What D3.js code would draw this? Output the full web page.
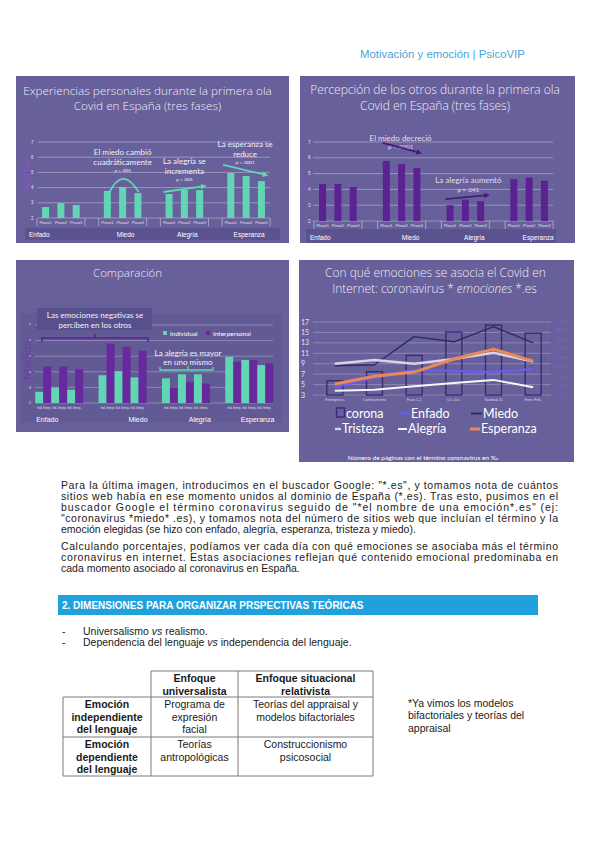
<!DOCTYPE html>
<html>
<head>
<meta charset="utf-8">
<script src="https://cdn.jsdelivr.net/npm/d3@7"></script>
<style>
  body { margin: 0; background: #fff; }
</style>
</head>
<body>
<div id="page"></div>
<script>
// ---- data ----
const emotions = ["Enfado", "Miedo", "Alegría", "Esperanza"];
const phases = ["Phase1", "Phase2", "Phase3"];
const personal = [[2.72, 2.98, 2.85], [3.78, 4.04, 3.64], [3.58, 3.84, 3.84], [4.96, 4.76, 4.43]];
const others = [[4.34, 4.34, 4.15], [5.8, 5.6, 5.35], [3.0, 3.35, 3.25], [4.65, 4.75, 4.55]];
const mediaTicks = [2, 3, 4, 5, 6, 7];

const periods = ["Emergencia", "Confinamiento", "Fase 1-2", "Oct.-Dic.", "Navidad 20", "Ener.-Feb."];
const corona = [7700, 12600, 21400, 34000, 37800, 33400];
const enfado = [4.5, 6.3, 7.8, 7.6, 7.4, 8.0];
const miedo = [8.6, 8.8, 14.2, 13.2, 16.1, 13.0];
const tristeza = [9.0, 9.7, 9.0, 9.9, 11.1, 9.4];
const alegria = [3.8, 4.0, 4.7, 5.3, 5.9, 4.5];
const esperanza = [5.1, 6.6, 7.4, 9.9, 11.8, 9.5];
const leftTicks = [3, 5, 7, 9, 11, 13, 15, 17];
const rightTicks = [0, 5000, 10000, 15000, 20000, 25000, 30000, 35000, 40000];

const para1 = [
  "Para la última imagen, introducimos en el buscador Google: \"*.es\", y tomamos nota de cuántos",
  "sitios web había en ese momento unidos al dominio de España (*.es). Tras esto, pusimos en el",
  "buscador Google el término coronavirus seguido de \"*el nombre de una emoción*.es\" (ej:",
  "\"coronavirus *miedo* .es), y tomamos nota del número de sitios web que incluían el término y la",
  "emoción elegidas (se hizo con enfado, alegría, esperanza, tristeza y miedo)."
];
const para2 = [
  "Calculando porcentajes, podíamos ver cada día con qué emociones se asociaba más el término",
  "coronavirus en internet. Estas asociaciones reflejan qué contenido emocional predominaba en",
  "cada momento asociado al coronavirus en España."
];
const tableHead = [["Enfoque", "universalista"], ["Enfoque situacional", "relativista"]];
const rowHeads = [["Emoción", "independiente", "del lenguaje"], ["Emoción", "dependiente", "del lenguaje"]];
const rowCells = [
  [["Programa de", "expresión", "facial"], ["Teorías del appraisal y", "modelos bifactoriales"]],
  [["Teorías", "antropológicas"], ["Construccionismo", "psicosocial"]]
];
const sideNote = ["*Ya vimos los modelos", "bifactoriales y teorías del", "appraisal"];

// ---- colours / fonts ----
const BG = "#68609a";
const ROW = "#5a5390";
const TEAL = "#62d6b4";
const PURPLE = "#5a2391";
const PURPLE3 = "#67299d";
const SANS = "'Liberation Sans', Arial, sans-serif";
const CH = "Lato, 'Open Sans', sans-serif";
const TT = "'Open Sans', Lato, sans-serif";

const svg = d3.select("#page").append("svg")
  .attr("width", 600).attr("height", 848)
  .style("display", "block");

const defs = svg.append("defs");
function arrowMarker(id, color) {
  defs.append("marker").attr("id", id)
    .attr("viewBox", "0 0 10 10").attr("refX", 6).attr("refY", 5)
    .attr("markerWidth", 3.2).attr("markerHeight", 3.2)
    .attr("orient", "auto")
    .append("path").attr("d", "M0,0L10,5L0,10z").attr("fill", color);
}
arrowMarker("arTeal", TEAL);
arrowMarker("arPurple", "#4a1a80");

function fitWidth(sel, w) {
  const len = sel.node().getComputedTextLength();
  const fs = parseFloat(sel.attr("font-size")) * w / len;
  sel.attr("font-size", fs.toFixed(2));
  return fs;
}

function title(g, lines, cx, ys, w) {
  const t = g.append("text").attr("x", cx).attr("y", ys[0])
    .attr("text-anchor", "middle").attr("font-family", TT).attr("font-weight", 300)
    .attr("font-size", 12).attr("fill", "#eeecf6").text(lines[0]);
  const fs = fitWidth(t, w);
  for (let i = 1; i < lines.length; i++) {
    g.append("text").attr("x", cx).attr("y", ys[i])
      .attr("text-anchor", "middle").attr("font-family", TT).attr("font-weight", 300)
      .attr("font-size", fs).attr("fill", "#eeecf6").text(lines[i]);
  }
}

// header
const head = svg.append("text").attr("x", 360).attr("y", 57.5)
  .attr("font-family", SANS).attr("font-size", 10.5).attr("fill", "#4aa3d5")
  .text("Motivación y emoción | PsicoVIP");
fitWidth(head, 165);

// ---- charts 1 & 2 : three phases ----
function phaseChart(o) {
  const g = svg.append("g");
  g.append("rect").attr("x", o.box[0]).attr("y", o.box[1])
    .attr("width", o.box[2] - o.box[0]).attr("height", o.box[3] - o.box[1]).attr("fill", BG);
  title(g, o.title, o.tx, o.ty, o.tw);

  const x = d3.scaleBand().domain(emotions).range(o.xr);
  const xi = d3.scalePoint().domain(phases).range([-15.3, 15.3]);
  const y = d3.scaleLinear().domain([2, 7]).range(o.yr);

  g.selectAll(".grid").data(mediaTicks).join("line")
    .attr("x1", o.gx[0]).attr("x2", o.gx[1])
    .attr("y1", d => y(d)).attr("y2", d => y(d))
    .attr("stroke", "#ffffff").attr("stroke-opacity", 0.42).attr("stroke-width", 0.8);
  g.selectAll(".tick").data(mediaTicks).join("text")
    .attr("x", o.tickX).attr("y", d => y(d) + 1.5)
    .attr("font-family", SANS).attr("font-size", 4.5).attr("fill", "#e6e2f2")
    .text(d => d);

  g.append("text")
    .attr("transform", `translate(${o.media[0]},${o.media[1]}) rotate(-90)`)
    .attr("text-anchor", "middle").attr("font-family", CH).attr("font-size", o.media[2])
    .attr("fill", "#8a52c6").text("MEDIA");

  const rows = [];
  o.data.forEach((vals, i) => vals.forEach((v, j) => rows.push({ e: emotions[i], p: phases[j], v })));
  g.selectAll(".bar").data(rows).join("rect")
    .attr("x", d => x(d.e) + x.bandwidth() / 2 + xi(d.p) - 3.5)
    .attr("y", d => y(d.v))
    .attr("width", 7)
    .attr("height", d => y(2) - y(d.v))
    .attr("fill", o.color);

  // phase labels and group brackets
  g.selectAll(".ph").data(rows).join("text")
    .attr("x", d => x(d.e) + x.bandwidth() / 2 + xi(d.p))
    .attr("y", y(2) + 6).attr("text-anchor", "middle")
    .attr("font-family", SANS).attr("font-size", 3.6).attr("fill", "#e6e2f2")
    .text(d => d.p);
  emotions.forEach(e => {
    [-24, 24].forEach(dx => {
      g.append("line")
        .attr("x1", x(e) + x.bandwidth() / 2 + dx).attr("x2", x(e) + x.bandwidth() / 2 + dx)
        .attr("y1", y(2)).attr("y2", y(2) + 8)
        .attr("stroke", "#e6e2f2").attr("stroke-width", 0.5);
    });
  });

  g.append("rect").attr("x", o.row[0]).attr("y", o.row[1])
    .attr("width", o.row[2] - o.row[0]).attr("height", o.row[3] - o.row[1]).attr("fill", ROW);
  g.selectAll(".cat").data(emotions).join("text")
    .attr("x", (d, i) => i === 0 ? o.row[0] + 4 : x(d) + x.bandwidth() / 2 + o.catShift)
    .attr("y", o.row[3] - 3.5)
    .attr("text-anchor", (d, i) => i === 0 ? "start" : "middle")
    .attr("font-family", SANS).attr("font-size", 6.5).attr("fill", "#ffffff")
    .text(d => d);
  return { g, x, y };
}

function note(g, lines, cx, ys, fs, color) {
  lines.forEach((l, i) => g.append("text").attr("x", cx).attr("y", ys[i])
    .attr("text-anchor", "middle").attr("font-family", CH)
    .attr("font-size", Array.isArray(fs) ? fs[i] : fs)
    .attr("fill", color).text(l));
}

const c1 = phaseChart({
  box: [16, 76, 289, 243], title: ["Experiencias personales durante la primera ola", "Covid en España (tres fases)"],
  tx: 147.5, ty: [94.5, 110], tw: 249,
  xr: [30, 277], yr: [218, 142], gx: [38, 270], tickX: 31,
  media: [30, 175, 9], data: personal, color: TEAL,
  row: [25, 228, 280, 240], catShift: 3
});
{
  const { g, x, y } = c1;
  const cx = e => x(e) + x.bandwidth() / 2;
  note(g, ["El miedo cambió", "cuadráticamente", "p = .005"], cx("Miedo"), [155, 165, 171.5], [8, 8, 4.5], "#f2f0f8");
  const arc = d3.path();
  arc.moveTo(cx("Miedo") - 14, y(3.6));
  arc.quadraticCurveTo(cx("Miedo"), y(5.5), cx("Miedo") + 16, y(3.7));
  g.append("path").attr("d", arc.toString()).attr("fill", "none")
    .attr("stroke", TEAL).attr("stroke-width", 1.8);

  note(g, ["La alegría se", "incrementa", "p = .006"], cx("Alegría"), [164, 174, 180.5], [8, 8, 4.5], "#f2f0f8");
  g.append("line").attr("x1", cx("Alegría") - 21).attr("y1", y(3.71))
    .attr("x2", cx("Alegría") + 20).attr("y2", y(4.1))
    .attr("stroke", TEAL).attr("stroke-width", 1.8).attr("marker-end", "url(#arTeal)");

  note(g, ["La esperanza se", "reduce", "p < .0001"], cx("Esperanza") - 1, [147, 157, 163.5], [8, 8, 4.5], "#f2f0f8");
  g.append("line").attr("x1", cx("Esperanza") - 23).attr("y1", y(5.49))
    .attr("x2", cx("Esperanza") + 20).attr("y2", y(4.83))
    .attr("stroke", TEAL).attr("stroke-width", 1.8).attr("marker-end", "url(#arTeal)");
}

const c2 = phaseChart({
  box: [300, 76, 575, 243], title: ["Percepción de los otros durante la primera ola", "Covid en España (tres fases)"],
  tx: 435, ty: [94, 109.5], tw: 250,
  xr: [306, 561], yr: [221, 142], gx: [313, 553], tickX: 308,
  media: [306, 183, 6], data: others, color: PURPLE,
  row: [306, 229, 556, 243], catShift: 9
});
{
  const { g, x, y } = c2;
  const cx = e => x(e) + x.bandwidth() / 2;
  note(g, ["El miedo decreció", "p < .0001"], cx("Miedo") - 1, [141, 149], [8, 6], "#e2def0");
  g.append("line").attr("x1", cx("Miedo") - 19).attr("y1", y(6.94))
    .attr("x2", cx("Miedo") + 18).attr("y2", y(6.32))
    .attr("stroke", "#4a1a80").attr("stroke-width", 1.8).attr("marker-end", "url(#arPurple)");
  note(g, ["La alegría aumentó", "p = .041"], cx("Alegría") + 3, [183, 192], [8, 6], "#e2def0");
  g.append("line").attr("x1", cx("Alegría") - 20).attr("y1", y(3.39))
    .attr("x2", cx("Alegría") + 22).attr("y2", y(3.64))
    .attr("stroke", "#4a1a80").attr("stroke-width", 1.8).attr("marker-end", "url(#arPurple)");
}

// ---- chart 3 : comparación ----
{
  const g = svg.append("g");
  g.append("rect").attr("x", 16).attr("y", 260).attr("width", 273).attr("height", 172).attr("fill", BG);
  g.append("rect").attr("x", 20).attr("y", 313).attr("width", 262).attr("height", 110).attr("fill", "#625a95");
  title(g, ["Comparación"], 127.5, [277], 69);

  const x = d3.scaleBand().domain(emotions).range([27.5, 281]);
  const keys = d3.range(6);
  const xi = d3.scaleBand().domain(keys).range([-24, 24]);
  const y = d3.scaleLinear().domain([2, 7]).range([403, 325]);

  g.selectAll(".grid").data(mediaTicks).join("line")
    .attr("x1", 35).attr("x2", 273)
    .attr("y1", d => y(d)).attr("y2", d => y(d))
    .attr("stroke", "#ffffff").attr("stroke-opacity", 0.35).attr("stroke-width", 0.8);
  g.selectAll(".tick").data(mediaTicks).join("text")
    .attr("x", 29).attr("y", d => y(d) + 1.2)
    .attr("font-family", SANS).attr("font-size", 3.5).attr("fill", "#e6e2f2").text(d => d);

  g.append("text").attr("transform", "translate(31,360) rotate(-90)")
    .attr("text-anchor", "middle").attr("font-family", CH).attr("font-size", 12)
    .attr("fill", "#7038ad").text("Medida");

  const rows = [];
  emotions.forEach((e, i) => phases.forEach((p, j) => {
    rows.push({ e, k: j * 2, v: personal[i][j], c: TEAL });
    rows.push({ e, k: j * 2 + 1, v: others[i][j], c: PURPLE3 });
  }));
  g.selectAll(".bar").data(rows).join("rect")
    .attr("x", d => x(d.e) + x.bandwidth() / 2 + xi(d.k))
    .attr("y", d => y(d.v)).attr("width", xi.bandwidth())
    .attr("height", d => y(2) - y(d.v)).attr("fill", d => d.c);

  emotions.forEach(e => {
    g.append("text").attr("x", x(e) + x.bandwidth() / 2 - 22).attr("y", 409)
      .attr("textLength", 44).attr("lengthAdjust", "spacingAndGlyphs")
      .attr("font-family", SANS).attr("font-size", 3.4).attr("fill", "#e6e2f2")
      .text("Ind. Interp. Ind. Interp. Ind. Interp.");
  });
  g.selectAll(".cat").data(emotions).join("text")
    .attr("x", (d, i) => i === 0 ? x(d) + x.bandwidth() / 2 - 23 : x(d) + x.bandwidth() / 2 + 25)
    .attr("y", 421.5)
    .attr("text-anchor", (d, i) => i === 0 ? "start" : "end")
    .attr("font-family", SANS).attr("font-size", 7).attr("fill", "#ffffff").text(d => d);

  // legend
  [["Individual", TEAL, 163], ["Interpersonal", PURPLE3, 206]].forEach(([t, c, lx]) => {
    g.append("rect").attr("x", lx).attr("y", 331).attr("width", 4).attr("height", 4).attr("fill", c);
    g.append("text").attr("x", lx + 7).attr("y", 335.5).attr("font-family", CH)
      .attr("font-size", 6.5).attr("fill", "#ffffff").text(t);
  });

  // annotations
  g.append("rect").attr("x", 37).attr("y", 308).attr("width", 115).attr("height", 22).attr("fill", "#58508c");
  note(g, ["Las emociones negativas se", "perciben en los otros"], 95, [318, 328], 8, "#f2f0f8");
  g.append("path").attr("d", "M42,342V338H148V342M95,338V334").attr("fill", "none")
    .attr("stroke", PURPLE).attr("stroke-width", 1.6);
  note(g, ["La alegría es mayor", "en uno mismo"], 188, [356, 365], 8, "#f2f0f8");
  g.append("path").attr("d", "M160,367V370H213V367M188,370V366").attr("fill", "none")
    .attr("stroke", TEAL).attr("stroke-width", 1.3);
}

// ---- chart 4 : internet ----
{
  const g = svg.append("g");
  g.append("rect").attr("x", 299).attr("y", 260).attr("width", 275).attr("height", 202).attr("fill", BG);

  const t1 = g.append("text").attr("x", 435.5).attr("y", 277).attr("text-anchor", "middle")
    .attr("font-family", TT).attr("font-weight", 300).attr("font-size", 12)
    .attr("fill", "#eeecf6").text("Con qué emociones se asocia el Covid en");
  const fs = fitWidth(t1, 221);
  const t2 = g.append("text").attr("x", 434.5).attr("y", 292.5).attr("text-anchor", "middle")
    .attr("font-family", TT).attr("font-weight", 300).attr("font-size", fs).attr("fill", "#eeecf6");
  t2.append("tspan").text("Internet: coronavirus * ");
  t2.append("tspan").attr("font-style", "italic").text("emociones");
  t2.append("tspan").text(" *.es");

  const x = d3.scalePoint().domain(periods).range([315, 553]).padding(0.5);
  const y = d3.scaleLinear().domain([3, 17]).range([395, 322]);
  const yr = d3.scaleLinear().domain([0, 40000]).range([395, 321]);

  g.selectAll(".grid").data(leftTicks).join("line")
    .attr("x1", 313).attr("x2", 551)
    .attr("y1", d => y(d)).attr("y2", d => y(d))
    .attr("stroke", "#ffffff").attr("stroke-opacity", 0.3).attr("stroke-width", 0.8);
  g.selectAll(".lt").data(leftTicks).join("text")
    .attr("x", 301).attr("y", d => y(d) + 2.5)
    .attr("font-family", CH).attr("font-size", 7).attr("fill", "#e4e0f2").text(d => d);
  g.selectAll(".rt").data(rightTicks).join("text")
    .attr("x", 556).attr("y", d => yr(d) + 1.2)
    .attr("font-family", SANS).attr("font-size", 3.6).attr("fill", "#8d5ed2")
    .text(d => d3.format(".3f")(d / 1000));
  g.selectAll(".xl").data(periods).join("text")
    .attr("x", d => x(d)).attr("y", 401).attr("text-anchor", "middle")
    .attr("font-family", SANS).attr("font-size", 3.6).attr("fill", "#d8d4ec").text(d => d);

  g.selectAll(".cb").data(corona).join("rect")
    .attr("x", (d, i) => x(periods[i]) - 8).attr("y", d => yr(d))
    .attr("width", 16).attr("height", d => yr(0) - yr(d))
    .attr("fill", "none").attr("stroke", "#3b2a78").attr("stroke-width", 1.4);

  const series = [
    { name: "Miedo", v: miedo, c: "#2d2a5e", w: 1.4, o: 1 },
    { name: "Tristeza", v: tristeza, c: "#d6d3e6", w: 2.4, o: 1 },
    { name: "Enfado", v: enfado, c: "#6a5ef2", w: 2.4, o: 0.9 },
    { name: "Alegría", v: alegria, c: "#f6f5fa", w: 2, o: 1 },
    { name: "Esperanza", v: esperanza, c: "#ec8756", w: 3, o: 1 }
  ];
  const line = d3.line().x((d, i) => x(periods[i])).y(d => y(d));
  g.selectAll(".ln").data(series).join("path")
    .attr("d", d => line(d.v)).attr("fill", "none")
    .attr("stroke", d => d.c).attr("stroke-width", d => d.w).attr("stroke-opacity", d => d.o)
    .attr("stroke-linejoin", "round");

  // legend
  const bySeries = Object.fromEntries(series.map(s => [s.name, s]));
  g.append("rect").attr("x", 336.5).attr("y", 408).attr("width", 8).attr("height", 9)
    .attr("fill", "none").attr("stroke", "#3b2a78").attr("stroke-width", 1.4);
  const legend = [
    ["corona", 346, 417.5, null, 0],
    ["Enfado", 411, 417.5, "Enfado", 400],
    ["Miedo", 483, 417.5, "Miedo", 471],
    ["Tristeza", 342, 433, "Tristeza", 335],
    ["Alegría", 408, 433, "Alegría", 398],
    ["Esperanza", 481, 433, "Esperanza", 470]
  ];
  legend.forEach(([t, lx, ly, s, mx]) => {
    if (s) {
      const sr = bySeries[s];
      g.append("line").attr("x1", mx).attr("x2", lx - 1).attr("y1", ly - 4).attr("y2", ly - 4)
        .attr("stroke", sr.c).attr("stroke-width", Math.max(sr.w, 1.8)).attr("stroke-opacity", sr.o);
    }
    g.append("text").attr("x", lx).attr("y", ly).attr("font-family", CH)
      .attr("font-size", 12.5).attr("fill", "#ffffff").text(t);
  });
  g.append("text").attr("x", 423).attr("y", 460).attr("text-anchor", "middle")
    .attr("font-family", CH).attr("font-size", 6.5).attr("fill", "#ffffff")
    .text("Número de páginas con el término coronavirus en ‰");
}

// ---- body text ----
function paragraph(lines, y0, step) {
  lines.forEach((l, i) => {
    const t = svg.append("text").attr("x", 61).attr("y", y0 + i * step)
      .attr("font-family", SANS).attr("font-size", 10.5).attr("fill", "#1a1a1a").text(l);
    if (i < lines.length - 1) t.attr("textLength", 497).attr("lengthAdjust", "spacing");
  });
}
paragraph(para1, 488.5, 11.1);
paragraph(para2, 549.5, 11.1);

svg.append("rect").attr("x", 58).attr("y", 595).attr("width", 480).attr("height", 20).attr("fill", "#1ea1dd");
svg.append("text").attr("x", 62).attr("y", 608.5).attr("font-family", SANS).attr("font-weight", "bold")
  .attr("font-size", 10).attr("fill", "#ffffff").text("2. DIMENSIONES PARA ORGANIZAR PRSPECTIVAS TEÓRICAS");

const bullets = [["Universalismo ", "vs", " realismo."], ["Dependencia del lenguaje ", "vs", " independencia del lenguaje."]];
bullets.forEach((b, i) => {
  const yy = 634.5 + i * 11;
  svg.append("text").attr("x", 62).attr("y", yy).attr("font-family", SANS).attr("font-size", 10.5)
    .attr("fill", "#1a1a1a").text("-");
  const t = svg.append("text").attr("x", 83).attr("y", yy).attr("font-family", SANS)
    .attr("font-size", 10.5).attr("fill", "#1a1a1a");
  t.append("tspan").text(b[0]);
  t.append("tspan").attr("font-style", "italic").text(b[1]);
  t.append("tspan").text(b[2]);
});

// ---- table ----
{
  const g = svg.append("g");
  const colX = [63, 151, 238, 373];
  const rowY = [671, 697, 737, 776];
  const stroke = l => l.attr("stroke", "#7a7a7a").attr("stroke-width", 1);
  stroke(g.append("line").attr("x1", colX[1]).attr("x2", colX[3]).attr("y1", rowY[0]).attr("y2", rowY[0]));
  rowY.slice(1).forEach(yy => stroke(g.append("line").attr("x1", colX[0]).attr("x2", colX[3]).attr("y1", yy).attr("y2", yy)));
  stroke(g.append("line").attr("x1", colX[0]).attr("x2", colX[0]).attr("y1", rowY[1]).attr("y2", rowY[3]));
  colX.slice(1).forEach(xx => stroke(g.append("line").attr("x1", xx).attr("x2", xx).attr("y1", rowY[0]).attr("y2", rowY[3])));

  const cell = (lines, ci, y0, bold) => lines.forEach((l, k) => g.append("text")
    .attr("x", (colX[ci] + colX[ci + 1]) / 2).attr("y", y0 + k * 12.5)
    .attr("text-anchor", "middle").attr("font-family", SANS).attr("font-size", 10.5)
    .attr("font-weight", bold ? "bold" : "normal").attr("fill", "#1a1a1a").text(l));
  tableHead.forEach((h, i) => cell(h, i + 1, 682, true));
  rowHeads.forEach((h, r) => {
    const y0 = rowY[r + 1] + 11;
    cell(h, 0, y0, true);
    rowCells[r].forEach((c, i) => cell(c, i + 1, y0, false));
  });

  sideNote.forEach((l, k) => g.append("text").attr("x", 408).attr("y", 706.5 + k * 12.5)
    .attr("font-family", SANS).attr("font-size", 10.5).attr("fill", "#1a1a1a").text(l));
}
</script>
</body>
</html>
